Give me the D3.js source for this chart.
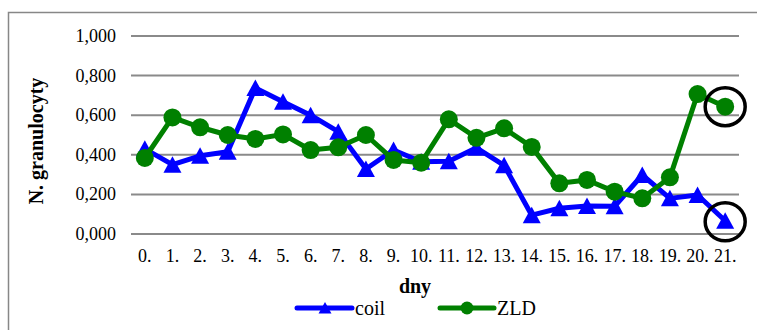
<!DOCTYPE html>
<html>
<head>
<meta charset="utf-8">
<script src="https://d3js.org/d3.v7.min.js"></script>
<style>
  body { margin: 0; background: #fff; }
  svg text { font-family: "Liberation Serif", "Times New Roman", serif; fill: #000; }
</style>
</head>
<body>
<svg id="chart" width="757" height="330"></svg>
<script>
// days and values
var days = ["0.", "1.", "2.", "3.", "4.", "5.", "6.", "7.", "8.", "9.", "10.",
            "11.", "12.", "13.", "14.", "15.", "16.", "17.", "18.", "19.", "20.", "21."];
var coil = [0.43, 0.35, 0.395, 0.415, 0.737, 0.668, 0.60, 0.517, 0.328, 0.424, 0.365,
            0.367, 0.435, 0.347, 0.095, 0.13, 0.141, 0.14, 0.298, 0.18, 0.197, 0.067];
var zld  = [0.384, 0.589, 0.539, 0.50, 0.48, 0.503, 0.424, 0.438, 0.50, 0.374, 0.36,
            0.579, 0.486, 0.534, 0.44, 0.256, 0.273, 0.214, 0.18, 0.286, 0.707, 0.643];
var yTicks = [0, 0.2, 0.4, 0.6, 0.8, 1.0];
var seriesNames = ["coil", "ZLD"];
var highlighted = [21]; // circled points at the end

var svg = d3.select("#chart");

// outer frame (runs off the right and bottom edge)
svg.append("rect")
  .attr("x", 8.5).attr("y", 12.5)
  .attr("width", 800).attr("height", 400)
  .attr("fill", "none")
  .attr("stroke", "#878787")
  .attr("stroke-width", 1.5);

var x = d3.scalePoint().domain(days).range([131, 739]).padding(0.5);
var y = d3.scaleLinear().domain([0, 1]).range([234, 36]);

var fmt = function(v) { return d3.format(".3f")(v).replace(".", ","); };

// gridlines
svg.append("g").selectAll("line")
  .data(yTicks)
  .enter().append("line")
    .attr("x1", 131).attr("x2", 739)
    .attr("y1", function(d) { return y(d); })
    .attr("y2", function(d) { return y(d); })
    .attr("stroke", "#8a8a8a")
    .attr("stroke-width", 2);

// y tick labels
svg.append("g").selectAll("text")
  .data(yTicks)
  .enter().append("text")
    .attr("x", 116)
    .attr("y", function(d) { return y(d) + 6; })
    .attr("text-anchor", "end")
    .style("font-size", "18px")
    .text(fmt);

// x tick labels
svg.append("g").selectAll("text")
  .data(days)
  .enter().append("text")
    .attr("x", function(d) { return x(d); })
    .attr("y", 262)
    .attr("text-anchor", "middle")
    .style("font-size", "18px")
    .text(function(d) { return d; });

// axis titles
svg.append("text")
  .attr("x", 415).attr("y", 293)
  .attr("text-anchor", "middle")
  .style("font-size", "20px").style("font-weight", "bold")
  .text("dny");

svg.append("text")
  .attr("transform", "translate(43,141) rotate(-90)")
  .attr("text-anchor", "middle")
  .style("font-size", "20px").style("font-weight", "bold")
  .text("N. granulocyty");

var line = d3.line()
  .x(function(d, i) { return x(days[i]); })
  .y(function(d) { return y(d); });

var triangle = "M0,-8.5L9,8L-9,8Z";
var smallTriangle = "M0,-6L6.5,5.5L-6.5,5.5Z";

// coil series
svg.append("path")
  .datum(coil)
  .attr("d", line)
  .attr("fill", "none")
  .attr("stroke", "#0000ff")
  .attr("stroke-width", 5)
  .attr("stroke-linejoin", "round");

svg.append("g").selectAll("path")
  .data(coil)
  .enter().append("path")
    .attr("d", triangle)
    .attr("transform", function(d, i) { return "translate(" + x(days[i]) + "," + y(d) + ")"; })
    .attr("fill", "#0000ff");

// ZLD series
svg.append("path")
  .datum(zld)
  .attr("d", line)
  .attr("fill", "none")
  .attr("stroke", "#008000")
  .attr("stroke-width", 5)
  .attr("stroke-linejoin", "round");

svg.append("g").selectAll("circle")
  .data(zld)
  .enter().append("circle")
    .attr("cx", function(d, i) { return x(days[i]); })
    .attr("cy", function(d) { return y(d); })
    .attr("r", 9)
    .attr("fill", "#008000");

// black rings round the last points
highlighted.forEach(function(i) {
  [coil[i], zld[i]].forEach(function(v) {
    svg.append("ellipse")
      .attr("cx", x(days[i]))
      .attr("cy", y(v) + (v === coil[i] ? 1 : 0))
      .attr("rx", 20).attr("ry", 19)
      .attr("fill", "none")
      .attr("stroke", "#000")
      .attr("stroke-width", 3.5);
  });
});

// legend
var legend = svg.append("g").attr("transform", "translate(0,308)");

legend.append("line")
  .attr("x1", 297).attr("x2", 352)
  .attr("stroke", "#0000ff").attr("stroke-width", 5).attr("stroke-linecap", "round");
legend.append("path")
  .attr("d", smallTriangle)
  .attr("transform", "translate(325,0)")
  .attr("fill", "#0000ff");
legend.append("text")
  .attr("x", 355).attr("y", 7)
  .style("font-size", "20px")
  .text(seriesNames[0]);

legend.append("line")
  .attr("x1", 440).attr("x2", 494)
  .attr("stroke", "#008000").attr("stroke-width", 5).attr("stroke-linecap", "round");
legend.append("circle")
  .attr("cx", 467).attr("cy", 0).attr("r", 6.5)
  .attr("fill", "#008000");
legend.append("text")
  .attr("x", 497).attr("y", 7)
  .style("font-size", "20px")
  .text(seriesNames[1]);
</script>
</body>
</html>
